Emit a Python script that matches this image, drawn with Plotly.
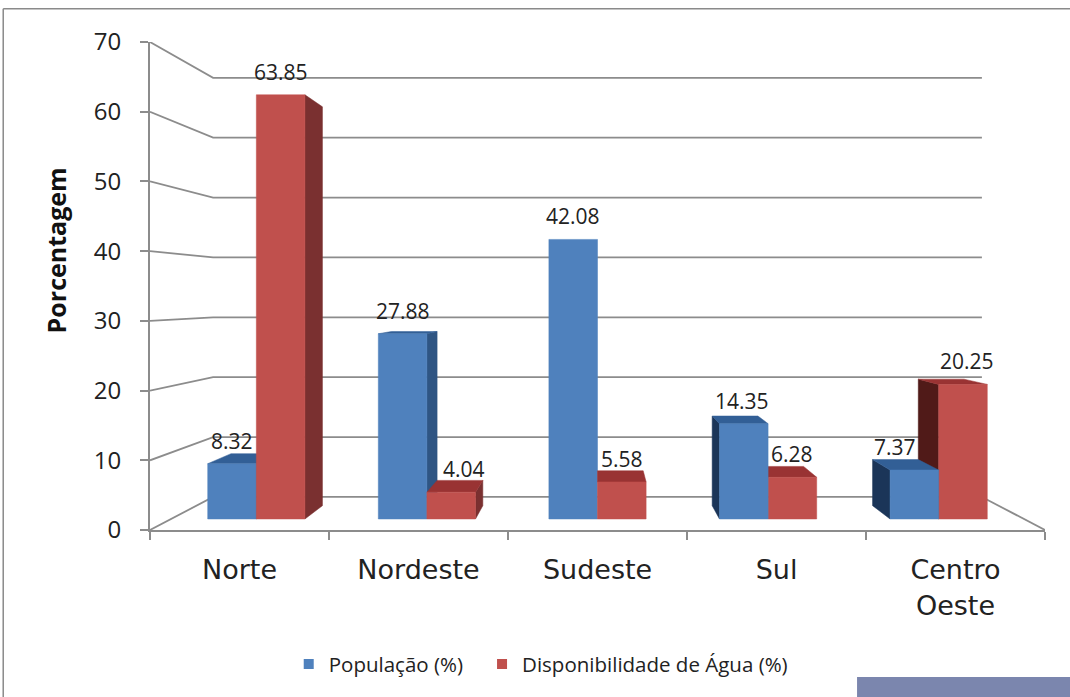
import plotly.graph_objects as go

# regions and shares
categories = ["Norte", "Nordeste", "Sudeste", "Sul", "Centro<br>Oeste"]
populacao = [8.32, 27.88, 42.08, 14.35, 7.37]
agua = [63.85, 4.04, 5.58, 6.28, 20.25]
y_ticks = [0, 10, 20, 30, 40, 50, 60, 70]

# colours: front, top, right side, left side
blue = ("#4f81bd", "#325f96", "#2f5583", "#1b3558")
red = ("#c0504d", "#993333", "#7a3030", "#501a18")
grid = "#8c8c8c"
text_col = "#222222"
font = "Open Sans"

# fake 3d: everything is scaled towards an eye point, in axis units
eye_x, eye_y = 2.5, 33.6
wall = 0.859
bar_front, bar_back = 0.953, 0.896
bar_w = 0.285

# nudges for the labels that sit off centre (pixels)
label_dx = {"8.32": 0, "63.85": 0, "27.88": 0, "4.04": 13, "42.08": 0, "5.58": 0,
            "14.35": -2, "6.28": 0, "7.37": -19, "20.25": 4}


def px(x, s):
    return eye_x + (x - eye_x) * s


def py(v, s):
    return eye_y + (v - eye_y) * s


def face(x, y, color):
    return go.Scatter(x=x + x[:1], y=y + y[:1], mode="lines", fill="toself", fillcolor=color,
                      line={"color": color, "width": 0.5}, showlegend=False, hoverinfo="skip")


def bar_faces(x0, x1, v, cols):
    f, b = bar_front, bar_back
    out = []
    if x1 < eye_x:
        out.append(face([px(x1, f), px(x1, b), px(x1, b), px(x1, f)],
                        [py(0, f), py(0, b), py(v, b), py(v, f)], cols[2]))
    if x0 > eye_x:
        out.append(face([px(x0, f), px(x0, b), px(x0, b), px(x0, f)],
                        [py(0, f), py(0, b), py(v, b), py(v, f)], cols[3]))
    if v < eye_y:
        out.append(face([px(x0, f), px(x1, f), px(x1, b), px(x0, b)],
                        [py(v, f), py(v, f), py(v, b), py(v, b)], cols[1]))
    out.append(face([px(x0, f), px(x1, f), px(x1, f), px(x0, f)],
                    [py(0, f), py(0, f), py(v, f), py(v, f)], cols[0]))
    return out


fig = go.Figure()

# back wall and left wall lines
line_x, line_y = [], []
for t in y_ticks:
    line_x += [0, px(0, wall), px(5, wall), None]
    line_y += [t, py(t, wall), py(t, wall), None]
line_x += [5, px(5, wall), None]
line_y += [0, py(0, wall), None]
fig.add_trace(go.Scatter(x=line_x, y=line_y, mode="lines", line={"color": grid, "width": 1.8},
                         showlegend=False, hoverinfo="skip"))

annotations = []
for i, cat in enumerate(categories):
    c = i + 0.5
    left = (c - bar_w, c, populacao[i], blue)
    right = (c, c + bar_w, agua[i], red)
    # the bar further from the eye gets painted first
    order = [left, right] if c <= eye_x else [right, left]
    for x0, x1, v, cols in order:
        for tr in bar_faces(x0, x1, v, cols):
            fig.add_trace(tr)
        label = f"{v:.2f}"
        annotations.append(dict(x=px((x0 + x1) / 2, bar_front), y=py(v, bar_front), text=label,
                                showarrow=False, xshift=label_dx[label], yshift=23,
                                font={"family": font, "size": 21, "color": text_col}))

# legend entries only, one legend each so the gap between them can be set
for name, cols, leg in [("População (%)", blue, "legend"), ("Disponibilidade de Água (%)", red, "legend2")]:
    fig.add_trace(go.Scatter(x=[None], y=[None], mode="markers", name=name, legend=leg,
                             showlegend=True,
                             marker={"symbol": "square", "size": 10, "color": cols[0]}))

annotations.append(dict(xref="paper", yref="paper", x=-0.105, y=0.573, text="<b>Porcentagem</b>",
                        textangle=-90, showarrow=False, xanchor="center", yanchor="middle",
                        font={"family": font, "size": 25, "color": "#111111"}))

leg_font = {"family": font, "size": 20.5, "color": text_col}
fig.update_layout(
    width=1070, height=697, autosize=False,
    margin={"l": 150, "r": 25, "t": 42, "b": 167},
    paper_bgcolor="white", plot_bgcolor="white",
    annotations=annotations,
    legend={"orientation": "h", "xanchor": "left", "yanchor": "middle", "x": 0.155, "y": -0.275,
            "font": leg_font},
    legend2={"orientation": "h", "xanchor": "left", "yanchor": "middle", "x": 0.371, "y": -0.275,
             "font": leg_font},
    shapes=[
        dict(type="line", xref="paper", yref="paper", x0=-0.164, x1=1.03, y0=1.068, y1=1.068,
             line={"color": "#8a8a8a", "width": 1.5}),
        dict(type="line", xref="paper", yref="paper", x0=-0.164, x1=-0.164, y0=-0.342, y1=1.068,
             line={"color": "#8a8a8a", "width": 1.5}),
        dict(type="rect", xref="paper", yref="paper", x0=0.79, x1=1.03, y0=-0.342, y1=-0.301,
             fillcolor="#7b86ae", line={"width": 0}),
    ],
)
fig.update_xaxes(range=[0, 5], tickmode="array", tickvals=[i + 0.5 for i in range(5)],
                 ticktext=categories, ticks="", showgrid=False, zeroline=False, showline=True,
                 linecolor=grid, linewidth=2, ticklabelstandoff=15,
                 tickfont={"family": "DejaVu Sans", "size": 27, "color": text_col},
                 minor={"tickmode": "array", "tickvals": list(range(6)), "ticks": "outside",
                        "ticklen": 8, "tickcolor": grid, "tickwidth": 1.5, "showgrid": False})
fig.update_yaxes(range=[0, 70], tickmode="array", tickvals=y_ticks, ticks="outside", ticklen=8,
                 tickcolor=grid, tickwidth=1.5, showgrid=False, zeroline=False, showline=True,
                 linecolor=grid, linewidth=2, ticklabelstandoff=14,
                 tickfont={"family": font, "size": 24, "color": text_col})

# the page's default body margin would push the figure 8px in
fig.write_html("out.html", config={"displayModeBar": False},
               post_script="document.body.style.margin = '0';")
